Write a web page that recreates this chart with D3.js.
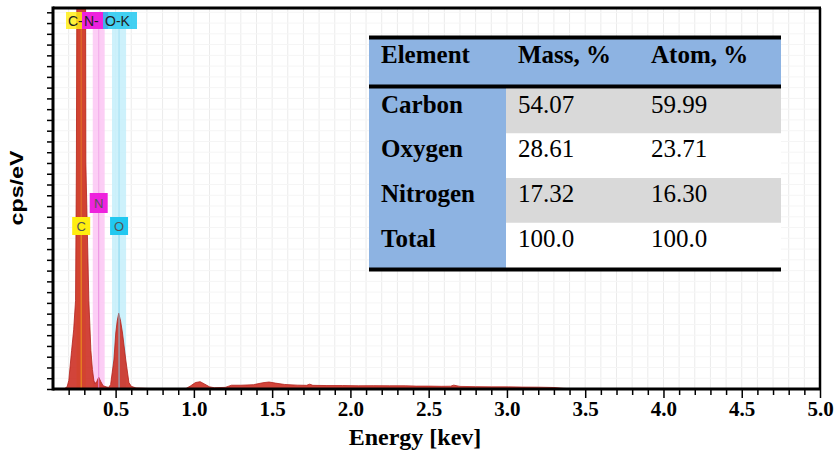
<!DOCTYPE html>
<html>
<head>
<meta charset="utf-8">
<script src="https://cdn.jsdelivr.net/npm/d3@7"></script>
<style>
  html, body { margin: 0; padding: 0; background: #fff; }
  svg { display: block; }
</style>
</head>
<body>
<svg id="chart" width="834" height="455"></svg>
<script>
// EDS spectrum: energy (keV) and intensity (cps/eV, in tick units)
const energyKeV = [0.10, 0.17, 0.19, 0.201, 0.219, 0.232, 0.244, 0.2495, 0.252, 0.262, 0.28, 0.298, 0.3085, 0.31, 0.329, 0.342, 0.352, 0.361,
  0.368, 0.38, 0.392, 0.405, 0.42, 0.44, 0.455,
  0.468, 0.478, 0.489, 0.501, 0.51, 0.52, 0.532, 0.544, 0.565, 0.585, 0.60, 0.63, 0.70,
  0.80, 0.95, 0.98, 1.01, 1.04, 1.07, 1.10, 1.13, 1.20, 1.24, 1.30, 1.38, 1.44, 1.48, 1.52, 1.58, 1.66, 1.72, 1.74, 1.76,
  1.85, 1.95, 2.05, 2.15, 2.25, 2.35, 2.42, 2.50, 2.58, 2.64, 2.66, 2.70, 2.80, 2.90, 3.00, 3.10, 3.20, 3.30, 3.36, 3.45, 4.0, 4.5, 5.0];
const cpsPerEV = [0.0, 0.0, 0.2, 0.8, 3.6, 5.5, 8.2, 21, 35, 80, 150, 80, 35, 21, 8.2, 3.6, 1.8, 0.8,
  0.5, 0.7, 1.1, 0.7, 0.3, 0.2, 0.15,
  0.4, 1.5, 2.7, 5.2, 6.3, 7.05, 6.3, 5.2, 2.7, 0.6, 0.25, 0.1, 0.05,
  0.03, 0.05, 0.3, 0.6, 0.68, 0.45, 0.2, 0.12, 0.15, 0.35, 0.35, 0.4, 0.58, 0.65, 0.55, 0.42, 0.36, 0.34, 0.45, 0.34,
  0.32, 0.32, 0.3, 0.31, 0.3, 0.3, 0.27, 0.27, 0.25, 0.26, 0.36, 0.24, 0.22, 0.2, 0.2, 0.18, 0.17, 0.14, 0.06, 0.0, 0.0, 0.0, 0.0];

// Characteristic X-ray lines
const lineElements = ["C", "N", "O"];
const lineLabels = ["C-K", "N-K", "O-K"];
const lineEnergies = [0.28, 0.392, 0.522];
const lineBoxColors = ["#ffee10", "#ee22dd", "#22c8f0"];
const lineBandColors = ["#fff3a0", "#fbc6f3", "#c4eefa"];
const lineStrokeColors = ["#f3a41c", "#e98ae0", "#7fd3ee"];

// Axis ticks
const xTickLabels = [0.5, 1.0, 1.5, 2.0, 2.5, 3.0, 3.5, 4.0, 4.5, 5.0];
const yTickCount = 35;

// Composition table
const tableHeaders = ["Element", "Mass, %", "Atom, %"];
const elementNames = ["Carbon", "Oxygen", "Nitrogen", "Total"];
const massPercent = ["54.07", "28.61", "17.32", "100.0"];
const atomPercent = ["59.99", "23.71", "16.30", "100.0"];

const svg = d3.select("#chart");
const margin = { left: 53, right: 820, top: 8, bottom: 389 };

const x = d3.scaleLinear().domain([0.1, 5.0]).range([margin.left, margin.right]);
const y = d3.scaleLinear().domain([0, 35.4]).range([margin.bottom, margin.top]);

svg.append("defs").append("clipPath").attr("id", "plotClip")
  .append("rect")
  .attr("x", margin.left).attr("y", margin.top)
  .attr("width", margin.right - margin.left).attr("height", margin.bottom - margin.top);

// Grid
const minorTicks = d3.range(2, 51).map(d => d / 10);
const grid = svg.append("g");
grid.selectAll("line.v").data(minorTicks).join("line")
  .attr("class", "v")
  .attr("x1", d => x(d)).attr("x2", d => x(d))
  .attr("y1", margin.top).attr("y2", margin.bottom)
  .attr("stroke", "#ebebeb").attr("stroke-width", 1);
grid.selectAll("line.h").data(d3.range(1, yTickCount + 1)).join("line")
  .attr("class", "h")
  .attr("x1", margin.left).attr("x2", margin.right)
  .attr("y1", d => y(d)).attr("y2", d => y(d))
  .attr("stroke", "#f5f5f5").attr("stroke-width", 1);

// Element bands
const bandTop = 29;
const bandHalf = [0.03, 0.038, 0.045];
const plot = svg.append("g").attr("clip-path", "url(#plotClip)");
plot.selectAll("rect.band").data(lineEnergies).join("rect")
  .attr("class", "band")
  .attr("x", (d, i) => x(d - bandHalf[i]))
  .attr("width", (d, i) => x(d + bandHalf[i]) - x(d - bandHalf[i]))
  .attr("y", bandTop).attr("height", margin.bottom - bandTop)
  .attr("fill", (d, i) => lineBandColors[i]).attr("opacity", 0.85);

// Spectrum
const spectrum = energyKeV.map((e, i) => ({ e, v: cpsPerEV[i] }));
const area = d3.area()
  .x(d => x(d.e)).y0(y(0)).y1(d => y(d.v))
  .curve(d3.curveLinear);
plot.append("path").datum(spectrum)
  .attr("d", area)
  .attr("fill", "#cc2a1f").attr("fill-opacity", 0.88)
  .attr("stroke", "#b3211b").attr("stroke-width", 0.8);

// Element lines through the peaks
const lowBoxTop = [217, 193, 217];
const lowBoxH = [18, 20, 18];
plot.selectAll("line.el").data(lineEnergies).join("line")
  .attr("class", "el")
  .attr("x1", d => x(d)).attr("x2", d => x(d))
  .attr("y1", (d, i) => lowBoxTop[i] + lowBoxH[i]).attr("y2", margin.bottom)
  .attr("stroke", (d, i) => lineStrokeColors[i]).attr("stroke-width", 1).attr("opacity", 0.9);
plot.selectAll("line.elTop").data(lineEnergies).join("line")
  .attr("class", "elTop")
  .attr("x1", d => x(d)).attr("x2", d => x(d))
  .attr("y1", bandTop).attr("y2", (d, i) => lowBoxTop[i])
  .attr("stroke", (d, i) => lineStrokeColors[i]).attr("stroke-width", 1).attr("opacity", 0.5);

// Line labels near the peaks
const lowLabels = svg.append("g");
lineEnergies.forEach((e, i) => {
  const cx = x(e);
  lowLabels.append("rect")
    .attr("x", cx - 9).attr("y", lowBoxTop[i]).attr("width", 18).attr("height", lowBoxH[i])
    .attr("fill", lineBoxColors[i]);
  lowLabels.append("text")
    .attr("x", cx).attr("y", lowBoxTop[i] + lowBoxH[i] / 2 + 5)
    .attr("text-anchor", "middle")
    .attr("font-family", "Liberation Sans, Arial, sans-serif").attr("font-size", 13)
    .attr("fill", "#555").text(lineElements[i]);
});

// Stacked line labels at the top
const topBoxes = [{ x0: 66, x1: 84 }, { x0: 82, x1: 108 }, { x0: 103, x1: 137 }];
const topOpacity = [0.82, 1, 0.85];
const topLabels = svg.append("g");
topBoxes.forEach((b, i) => {
  topLabels.append("rect")
    .attr("x", b.x0).attr("y", 12).attr("width", b.x1 - b.x0).attr("height", 17)
    .attr("fill", lineBoxColors[i]).attr("opacity", topOpacity[i]);
  topLabels.append("text")
    .attr("x", b.x0 + 2).attr("y", 25.5)
    .attr("font-family", "Liberation Sans, Arial, sans-serif").attr("font-size", 14)
    .attr("fill", "#222").text(i === 2 ? lineLabels[i] : lineLabels[i].slice(0, 2));
});

// Axes
const isMajor = d => xTickLabels.some(t => Math.abs(t - d) < 1e-9);
const xAxis = d3.axisBottom(x)
  .tickValues(minorTicks)
  .tickSizeOuter(0)
  .tickFormat(d => isMajor(d) ? d3.format(".1f")(d) : "");
const gx = svg.append("g").attr("transform", `translate(0,${margin.bottom})`).call(xAxis);
gx.select(".domain").remove();
gx.selectAll(".tick line")
  .attr("stroke", "#000").attr("stroke-width", 1.5)
  .attr("y2", d => isMajor(d) ? 9 : 6);
gx.selectAll(".tick text")
  .attr("y", 12)
  .attr("font-family", "Liberation Serif, Times New Roman, serif")
  .attr("font-weight", "bold").attr("font-size", 21).attr("fill", "#000");

const yAxis = d3.axisLeft(y).tickValues(d3.range(0, yTickCount + 1)).tickSize(6).tickFormat("").tickSizeOuter(0);
const gy = svg.append("g").attr("transform", `translate(${margin.left},0)`).call(yAxis);
gy.select(".domain").remove();
gy.selectAll(".tick line").attr("stroke", "#000").attr("stroke-width", 1.5);

// Frame
const frame = svg.append("g").attr("stroke", "#000").attr("fill", "none");
frame.append("line").attr("x1", margin.left).attr("x2", margin.right + 1).attr("y1", margin.top).attr("y2", margin.top).attr("stroke-width", 3);
frame.append("line").attr("x1", margin.right).attr("x2", margin.right).attr("y1", margin.top).attr("y2", margin.bottom).attr("stroke-width", 2.5);
frame.append("line").attr("x1", margin.left).attr("x2", margin.left).attr("y1", margin.top - 1.5).attr("y2", margin.bottom + 1.5).attr("stroke-width", 3);
frame.append("line").attr("x1", margin.left).attr("x2", margin.right + 1).attr("y1", margin.bottom).attr("y2", margin.bottom).attr("stroke-width", 3);

// Axis titles
svg.append("text")
  .attr("x", 415).attr("y", 445).attr("text-anchor", "middle")
  .attr("font-family", "Liberation Serif, Times New Roman, serif")
  .attr("font-weight", "bold").attr("font-size", 24).text("Energy [kev]");
svg.append("text")
  .attr("transform", "translate(23,188) rotate(-90)")
  .attr("text-anchor", "middle")
  .attr("font-family", "Liberation Sans, Arial, sans-serif")
  .attr("font-weight", "bold").attr("font-size", 18)
  .attr("textLength", 75).attr("lengthAdjust", "spacingAndGlyphs")
  .text("cps/eV");

// Composition table
const tb = { x0: 369, x1: 781, col1: 506, top: 37.5, headBottom: 86.5, bottom: 269.5 };
const rowTop = 88.5, rowH = 44.75;
const table = svg.append("g");
table.append("rect").attr("x", tb.x0).attr("y", tb.top).attr("width", tb.x1 - tb.x0).attr("height", tb.bottom - tb.top).attr("fill", "#fff");
table.append("rect").attr("x", tb.x0).attr("y", tb.top).attr("width", tb.x1 - tb.x0).attr("height", tb.headBottom - tb.top).attr("fill", "#8db3e2");
table.append("rect").attr("x", tb.x0).attr("y", tb.headBottom).attr("width", tb.col1 - tb.x0).attr("height", tb.bottom - tb.headBottom).attr("fill", "#8db3e2");
elementNames.forEach((name, i) => {
  if (i === 0 || i === 2) {
    table.append("rect").attr("x", tb.col1).attr("y", rowTop + i * rowH).attr("width", tb.x1 - tb.col1).attr("height", rowH).attr("fill", "#d9d9d9");
  }
});
const colX = [381, 518, 651];
tableHeaders.forEach((h, j) => {
  table.append("text").attr("x", colX[j]).attr("y", 63)
    .attr("font-family", "Liberation Serif, Times New Roman, serif")
    .attr("font-weight", "bold").attr("font-size", 25).text(h);
});
elementNames.forEach((name, i) => {
  const by = rowTop + i * rowH + 24;
  [name, massPercent[i], atomPercent[i]].forEach((t, j) => {
    table.append("text").attr("x", colX[j]).attr("y", by)
      .attr("font-family", "Liberation Serif, Times New Roman, serif")
      .attr("font-weight", j === 0 ? "bold" : "normal").attr("font-size", 25).text(t);
  });
});
[tb.top, tb.headBottom, tb.bottom].forEach(ly => {
  table.append("line").attr("x1", tb.x0).attr("x2", tb.x1).attr("y1", ly).attr("y2", ly)
    .attr("stroke", "#000").attr("stroke-width", 4);
});
</script>
</body>
</html>
